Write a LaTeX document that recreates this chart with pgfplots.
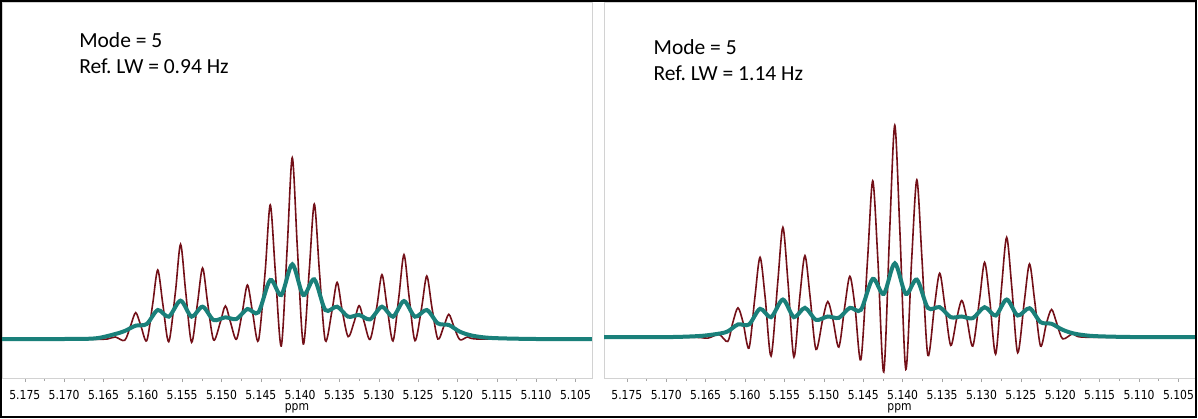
\documentclass[border=0pt]{standalone}
\usepackage{fontspec}
\usepackage{pgfplots}
\pgfplotsset{compat=1.18}
\setmainfont{Carlito}
\newfontfamily\tickfont[FakeStretch=0.87]{DejaVu Sans}
\definecolor{specred}{RGB}{115,16,24}
\definecolor{specteal}{RGB}{26,128,122}

\pgfplotsset{
  nmr/.style={
    scale only axis,
    height=376pt,
    x dir=reverse,
    xmin=5.1029, xmax=5.1779,
    axis line style={gray!35, line width=0.8pt},
    xtick={5.105,5.110,5.115,5.120,5.125,5.130,5.135,5.140,5.145,5.150,5.155,5.160,5.165,5.170,5.175},
    minor x tick num=1,
    tick align=outside,
    major tick length=4pt, minor tick length=3pt,
    every tick/.append style={gray!70, line width=0.6pt},
    ytick=\empty,
    scaled x ticks=false,
    xticklabel style={font=\tickfont\fontsize{12.4}{13}\selectfont, text=black,
      yshift=-5pt,
      /pgf/number format/fixed, /pgf/number format/fixed zerofill,
      /pgf/number format/precision=3, /pgf/number format/assume math mode=true},
    xlabel={ppm},
    xlabel style={font=\tickfont\fontsize{12.4}{13}\selectfont, text=black,
      at={(axis description cs:0.5,0)}, anchor=base, yshift=-32pt},
  },
  red/.style={specred, line width=1.6pt, smooth, no markers},
  teal/.style={specteal, line width=4pt, smooth, no markers},
}
\tikzset{note/.style={anchor=base west, font=\fontsize{21.5}{24}\selectfont}}

\begin{document}
\frenchspacing
\begin{tikzpicture}
\useasboundingbox (0,0) rectangle (1198pt,418pt);

% left panel, Ref. LW = 0.94 Hz
\begin{axis}[nmr, at={(2pt,40pt)}, anchor=south west, width=590pt,
    ymin=-117, ymax=1011]
  \addplot[red] coordinates {
    (5.1779,0) (5.1700,0) (5.1660,-1) (5.1645,0) (5.1635,6) (5.1623,-4)
    (5.16155,40) (5.1609,79) (5.16025,40) (5.1595,-5)
    (5.15875,104) (5.1581,207) (5.15745,104) (5.1567,-8)
    (5.15585,142) (5.1552,284) (5.15455,142) (5.1538,-10)
    (5.15305,107) (5.1524,213) (5.15175,107) (5.1510,-3)
    (5.15015,50) (5.1495,99) (5.14885,50) (5.1481,-1)
    (5.14735,81) (5.1467,162) (5.14605,81) (5.1453,-5)
    (5.14445,201) (5.1438,402) (5.14315,201) (5.1424,-21)
    (5.14165,272) (5.1410,544) (5.14035,272) (5.1396,-15)
    (5.13885,203) (5.1382,405) (5.13755,203) (5.1368,-5)
    (5.13595,85) (5.1353,170) (5.13465,85) (5.1339,7)
    (5.13315,50) (5.1325,100) (5.13185,50) (5.1311,-1)
    (5.13025,97) (5.1296,193) (5.12895,97) (5.1282,-6)
    (5.12745,127) (5.1268,253) (5.12615,127) (5.1254,-5)
    (5.12455,95) (5.1239,189) (5.12325,95) (5.1225,0)
    (5.12175,37) (5.1211,74) (5.12045,37) (5.1197,-2)
    (5.1187,6) (5.1175,0) (5.1100,0) (5.1029,0)
  };
  \addplot[teal] coordinates {
    (5.1779,0) (5.1700,0) (5.1660,2) (5.1635,15) (5.1623,24)
    (5.1609,40) (5.1595,45) (5.1581,87) (5.1567,67) (5.1552,115)
    (5.1538,67) (5.1524,97) (5.1510,57) (5.1495,65) (5.1481,60)
    (5.1467,90) (5.1453,80) (5.1438,177) (5.1424,132) (5.1410,224)
    (5.1396,132) (5.1382,179) (5.1368,87) (5.1353,97) (5.1339,67)
    (5.1325,72) (5.1311,59) (5.1296,97) (5.1282,67) (5.1268,114)
    (5.1254,67) (5.1239,87) (5.1225,47) (5.1211,42) (5.1197,22)
    (5.1181,10) (5.1156,3) (5.1100,0) (5.1029,0)
  };
  \node[note] at (axis description cs:0.125,0.878) {Mode = 5};
  \node[note] at (axis description cs:0.125,0.809) {Ref. LW = 0.94 Hz};
\end{axis}

% right panel, Ref. LW = 1.14 Hz
\begin{axis}[nmr, at={(604pt,40pt)}, anchor=south west, width=591pt,
    ymin=-123, ymax=1008]
  \addplot[red] coordinates {
    (5.1779,0) (5.1700,0) (5.1660,-1) (5.1647,-3) (5.1633,8) (5.1622,-13)
    (5.16155,44) (5.1609,88) (5.16025,44) (5.1595,-33)
    (5.15875,120) (5.1581,240) (5.15745,120) (5.1567,-57)
    (5.15585,165) (5.1552,330) (5.15455,165) (5.1538,-60)
    (5.15305,122) (5.1524,245) (5.15175,122) (5.1510,-37)
    (5.15015,53) (5.1495,107) (5.14885,53) (5.1481,-30)
    (5.14735,92) (5.1467,183) (5.14605,92) (5.1453,-68)
    (5.14445,235) (5.1438,470) (5.14315,235) (5.1424,-105)
    (5.14165,318) (5.1410,637) (5.14035,318) (5.1396,-97)
    (5.13885,236) (5.1382,473) (5.13755,236) (5.1368,-55)
    (5.13595,96) (5.1353,192) (5.13465,96) (5.1339,-25)
    (5.13315,55) (5.1325,110) (5.13185,55) (5.1311,-27)
    (5.13025,112) (5.1296,225) (5.12895,112) (5.1282,-51)
    (5.12745,150) (5.1268,300) (5.12615,150) (5.1254,-47)
    (5.12455,110) (5.1239,220) (5.12325,110) (5.1225,-27)
    (5.12175,42) (5.1211,83) (5.12045,42) (5.1197,-5)
    (5.1184,10) (5.1172,0) (5.1100,0) (5.1029,0)
  };
  \addplot[teal] coordinates {
    (5.1779,0) (5.1700,0) (5.1660,3) (5.1640,8) (5.1623,16)
    (5.1609,38) (5.1595,38) (5.1581,85) (5.1567,60) (5.1552,113)
    (5.1538,60) (5.1524,88) (5.1510,52) (5.1495,62) (5.1481,58)
    (5.1467,88) (5.1453,82) (5.1438,175) (5.1424,130) (5.1410,222)
    (5.1396,130) (5.1382,173) (5.1368,88) (5.1353,90) (5.1339,60)
    (5.1325,62) (5.1311,57) (5.1296,90) (5.1282,65) (5.1268,113)
    (5.1254,65) (5.1239,87) (5.1225,45) (5.1211,40) (5.1197,22)
    (5.1181,10) (5.1156,3) (5.1100,0) (5.1029,0)
  };
  \node[note] at (axis description cs:0.078,0.861) {Mode = 5};
  \node[note] at (axis description cs:0.078,0.790) {Ref. LW = 1.14 Hz};
\end{axis}

\draw[black, line width=2pt] (1.2pt,1.3pt) rectangle (1195.5pt,417pt);
\end{tikzpicture}
\end{document}
